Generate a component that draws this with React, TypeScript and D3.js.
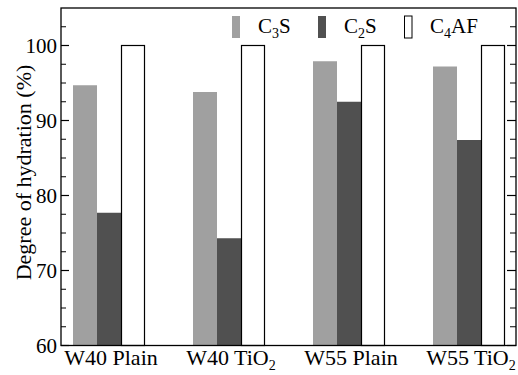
import React from "react";
import * as d3 from "d3";

const categories = ["W40 Plain", "W40 TiO_2", "W55 Plain", "W55 TiO_2"];
const seriesNames = ["C_3S", "C_2S", "C_4AF"];
const c3s = [94.7, 93.8, 97.9, 97.2];
const c2s = [77.7, 74.3, 92.5, 87.4];
const c4af = [100, 100, 100, 100];
const yMajorTicks = [60, 70, 80, 90, 100];
const yMinorTicks = [62.5, 65, 67.5, 72.5, 75, 77.5, 82.5, 85, 87.5, 92.5, 95, 97.5, 102.5];

const seriesValues = [c3s, c2s, c4af];
const fills = ["#a0a0a0", "#505050", "#ffffff"];
const strokes = ["none", "none", "#000"];

const W = 518, H = 375;
const left = 61, right = 516, top = 8, bottom = 345.5;
const FONT = "Liberation Serif";

function Rich({ s, sub = 14, dy = 5 }: { s: string; sub?: number; dy?: number }) {
  const parts = s.split(/_(\d)/);
  return (
    <>
      {parts.map((p, i) =>
        i % 2 === 1 ? (
          <tspan key={i} style={{ fontSize: sub }} dy={dy}>{p}</tspan>
        ) : (
          <tspan key={i} dy={i > 0 ? -dy : 0}>{p}</tspan>
        )
      )}
    </>
  );
}

export default function App() {
  const y = d3.scaleLinear().domain([60, 105]).range([bottom, top]);
  const x0 = d3.scaleBand<string>().domain(categories).range([49, 529]).padding(0);
  const x1 = d3.scaleBand<string>().domain(seriesNames).range([24, 96]).padding(0);

  const legendX = [232, 318, 404];

  return (
    <svg width={W} height={H} style={{ position: "absolute", left: 0, top: 0, background: "#fff" }}>
      {categories.map((c, gi) => (
        <g key={c} transform={`translate(${x0(c)},0)`}>
          {seriesNames.map((s, si) => {
            const v = seriesValues[si][gi];
            return (
              <rect
                key={s}
                x={x1(s)! + (si === 2 ? 0.5 : 0)}
                y={y(v)}
                width={x1.bandwidth() - (si === 2 ? 1 : 0)}
                height={y(60) - y(v)}
                fill={fills[si]}
                stroke={strokes[si]}
                strokeWidth={1.2}
              />
            );
          })}
        </g>
      ))}
      <rect x={left} y={top} width={right - left} height={bottom - top} fill="none" stroke="#000" strokeWidth={1.3} />
      {yMajorTicks.map((t) => (
        <g key={t}>
          <line x1={left} x2={left + 8} y1={y(t)} y2={y(t)} stroke="#000" strokeWidth={1.2} />
          <line x1={right} x2={right - 9} y1={y(t)} y2={y(t)} stroke="#000" strokeWidth={1.2} />
          <text x={57} y={y(t) + 7} textAnchor="end" style={{ fontFamily: FONT, fontSize: 21 }}>{t}</text>
        </g>
      ))}
      {yMinorTicks.map((t) => (
        <g key={t}>
          <line x1={left} x2={left + 5} y1={y(t)} y2={y(t)} stroke="#000" strokeWidth={1} />
          <line x1={right} x2={right - 6} y1={y(t)} y2={y(t)} stroke="#000" strokeWidth={1} />
        </g>
      ))}
      {categories.map((c) => (
        <text key={c} x={x0(c)! + x0.bandwidth() / 2 + 2} y={365} textAnchor="middle" style={{ fontFamily: FONT, fontSize: 22 }}>
          <Rich s={c} />
        </text>
      ))}
      <text
        transform={`translate(31,172.5) rotate(-90)`}
        textAnchor="middle"
        style={{ fontFamily: FONT, fontSize: 22 }}
      >
        Degree of hydration (%)
      </text>
      {seriesNames.map((s, i) => (
        <g key={s}>
          <rect
            x={legendX[i] + (i === 2 ? 0.5 : 0)}
            y={16}
            width={i === 2 ? 7.5 : 8}
            height={22}
            fill={fills[i]}
            stroke={strokes[i]}
            strokeWidth={1}
          />
          <text x={legendX[i] + 26} y={33} style={{ fontFamily: FONT, fontSize: 21 }}>
            <Rich s={s} />
          </text>
        </g>
      ))}
    </svg>
  );
}
